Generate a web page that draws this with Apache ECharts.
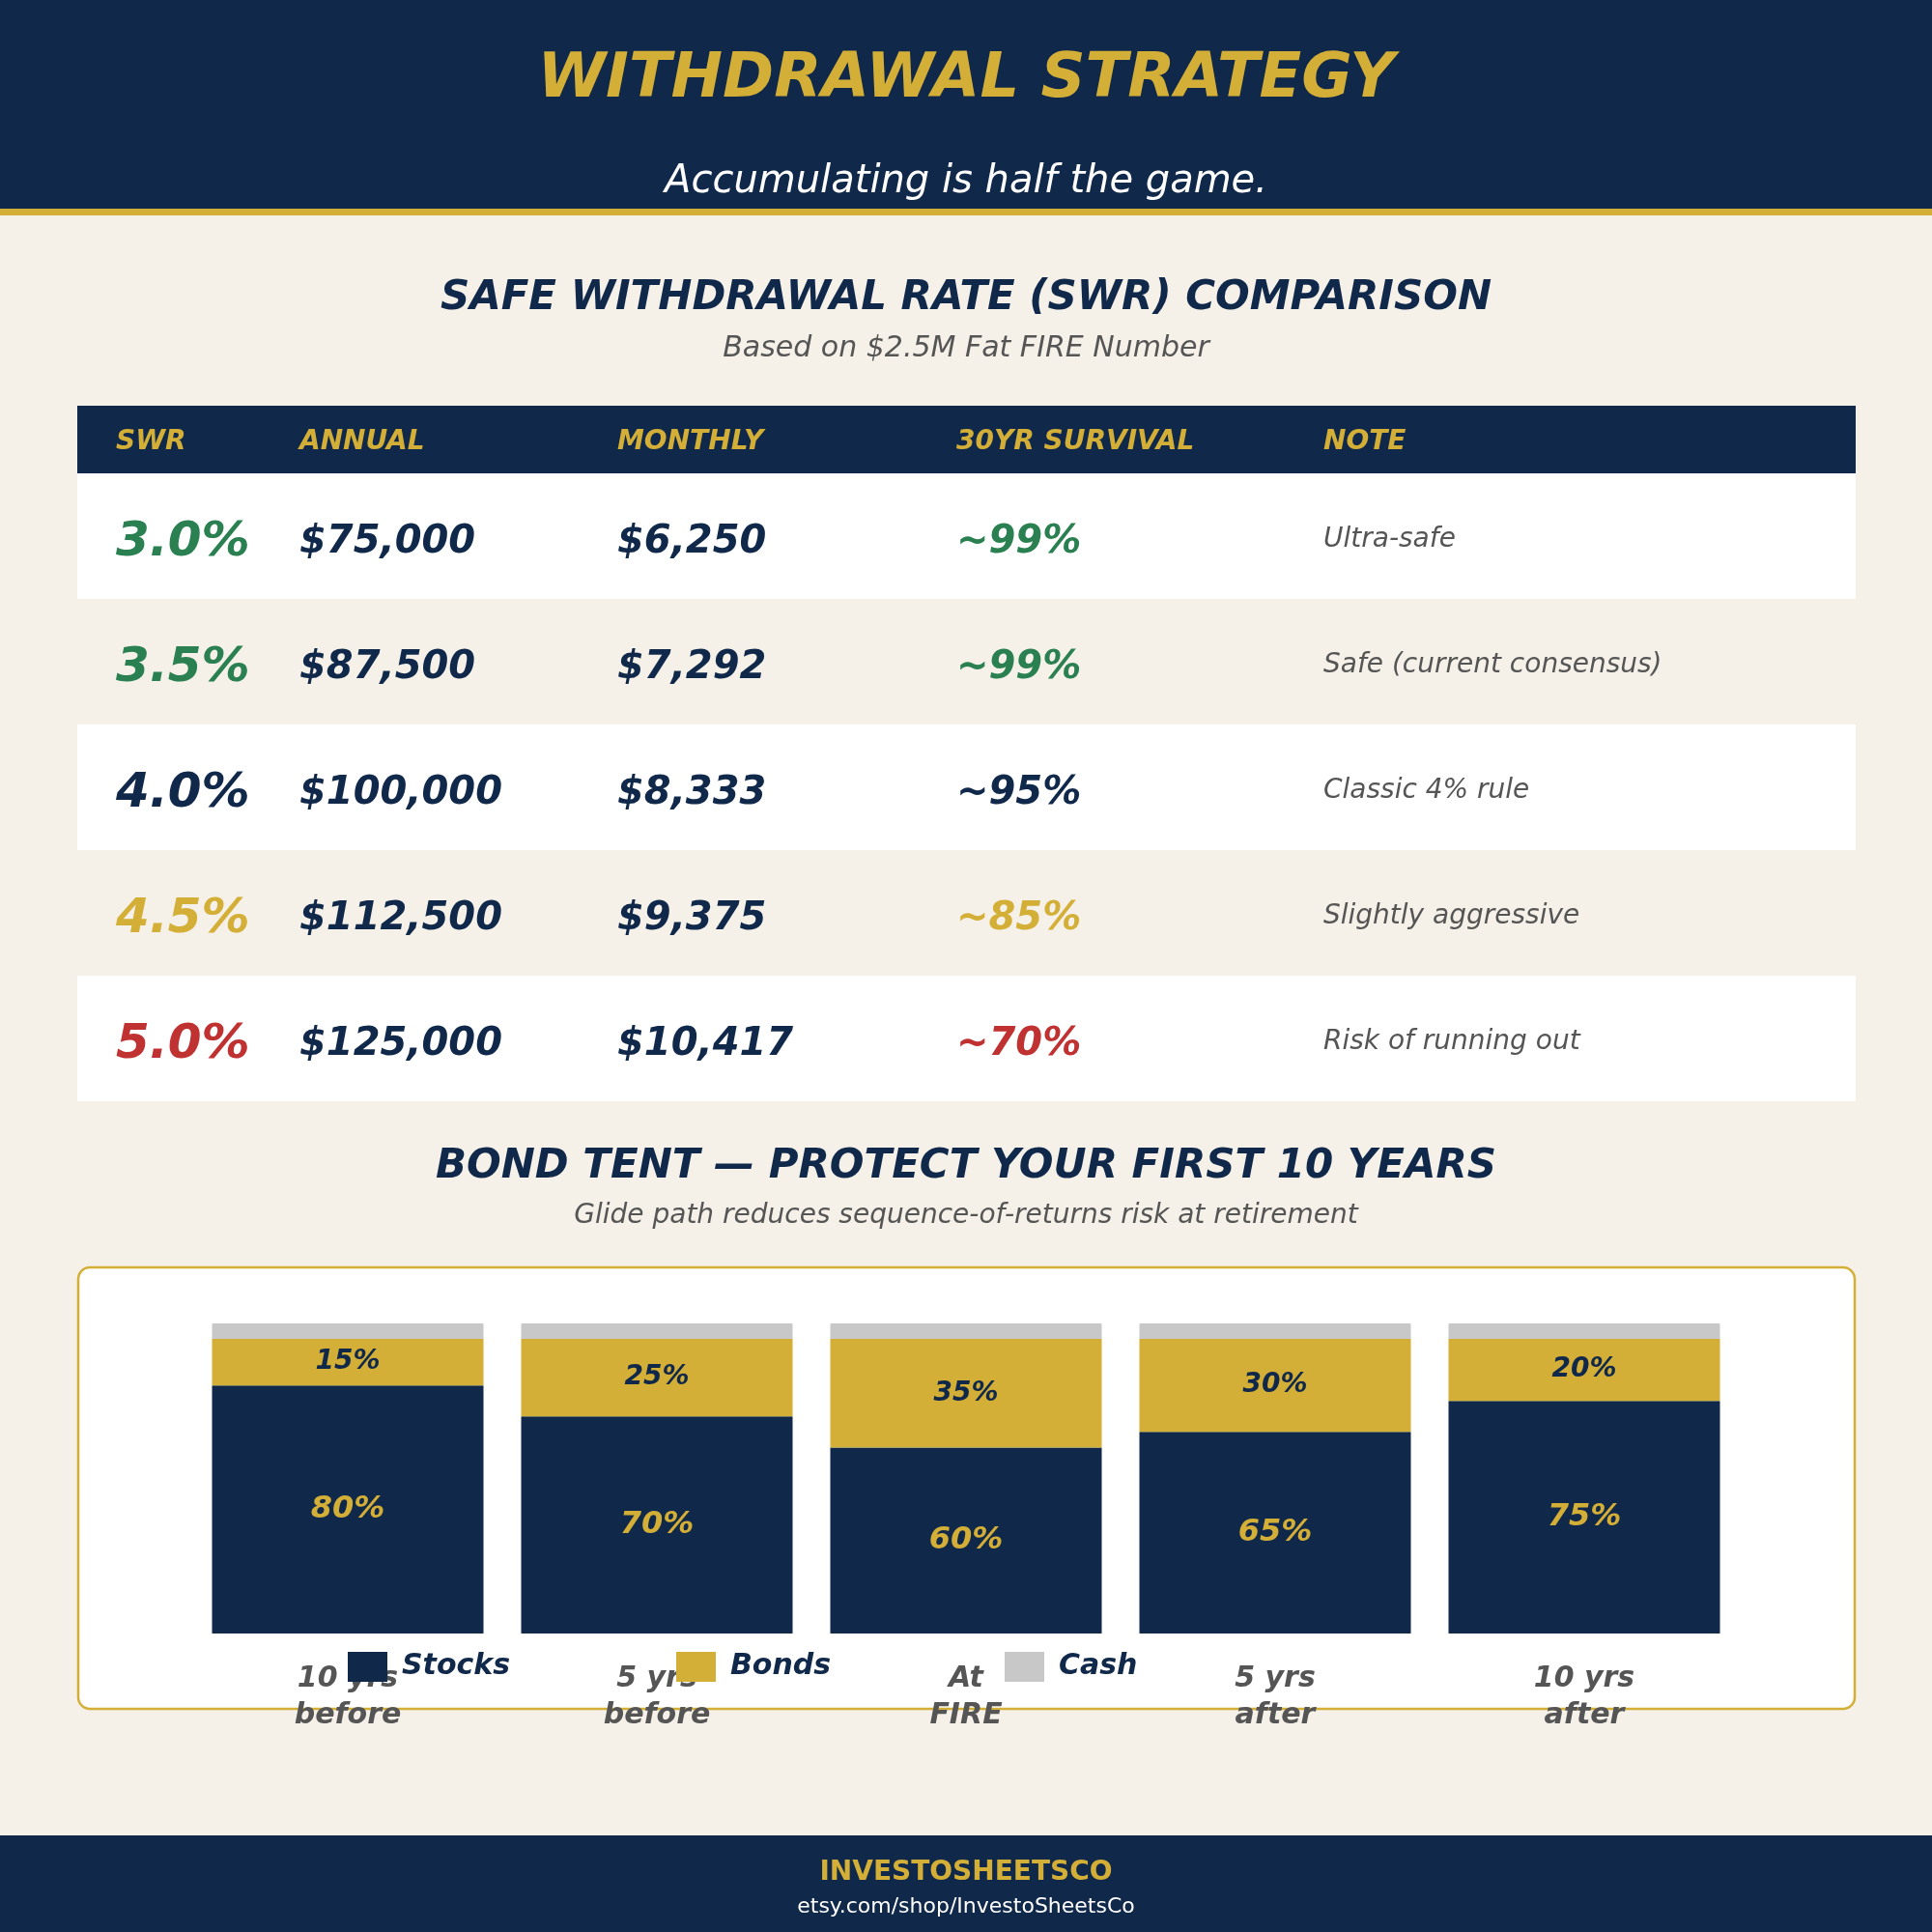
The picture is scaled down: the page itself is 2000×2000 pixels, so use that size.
<!DOCTYPE html>
<html>
<head>
<meta charset="utf-8">
<title>Withdrawal Strategy</title>
<script src="https://cdn.jsdelivr.net/npm/echarts/dist/echarts.min.js"></script>
<style>
  html, body { margin: 0; padding: 0; background: #f5f0e8; }
  #main { width: 2000px; height: 2000px; }
</style>
</head>
<body>
<div id="main"></div>
<script>
// SWR table data
var tableHeaders = ['SWR', 'ANNUAL', 'MONTHLY', '30YR SURVIVAL', 'NOTE'];
var swrRates = ['3.0%', '3.5%', '4.0%', '4.5%', '5.0%'];
var annualAmounts = ['$75,000', '$87,500', '$100,000', '$112,500', '$125,000'];
var monthlyAmounts = ['$6,250', '$7,292', '$8,333', '$9,375', '$10,417'];
var survivalRates = ['~99%', '~99%', '~95%', '~85%', '~70%'];
var notes = ['Ultra-safe', 'Safe (current consensus)', 'Classic 4% rule', 'Slightly aggressive', 'Risk of running out'];

// bond tent data
var phases = ['10 yrs\nbefore', '5 yrs\nbefore', 'At\nFIRE', '5 yrs\nafter', '10 yrs\nafter'];
var stocks = [80, 70, 60, 65, 75];
var bonds = [15, 25, 35, 30, 20];
var cash = [5, 5, 5, 5, 5];

// colours
var NAVY = '#10284a';
var GOLD = '#d4af37';
var BEIGE = '#f5f0e8';
var GREEN = '#2a8050';
var RED = '#c03232';
var GREY = '#555555';
var CASH = '#c8c8c8';
var FONT = '"DejaVu Sans", sans-serif';
var rowTone = [GREEN, GREEN, NAVY, GOLD, RED];

var myChart = echarts.init(document.getElementById('main'));

// helper for text elements
function txt(text, x, y, size, color, opts) {
  opts = opts || {};
  return {
    type: 'text',
    z: 5,
    style: {
      text: text,
      x: x,
      y: y,
      fill: color,
      fontSize: size,
      fontWeight: opts.weight || 'normal',
      fontStyle: opts.italic === false ? 'normal' : 'italic',
      fontFamily: FONT,
      align: opts.align || 'center',
      verticalAlign: 'middle'
    }
  };
}

var graphics = [];

// header band
graphics.push({ type: 'rect', z: 0, shape: { x: 0, y: 0, width: 2000, height: 216 }, style: { fill: NAVY } });
graphics.push({ type: 'rect', z: 0, shape: { x: 0, y: 216, width: 2000, height: 7 }, style: { fill: GOLD } });
graphics.push(txt('WITHDRAWAL STRATEGY', 1000, 83, 64, GOLD, { weight: 'bold' }));
graphics.push(txt('Accumulating is half the game.', 1000, 189, 40, '#ffffff'));

// table section
graphics.push(txt('SAFE WITHDRAWAL RATE (SWR) COMPARISON', 1000, 309, 42, NAVY, { weight: 'bold' }));
graphics.push(txt('Based on $2.5M Fat FIRE Number', 1000, 361, 30, GREY));

var colX = [120, 310, 639, 990, 1370];
var tableTop = 420, headH = 70, rowH = 130;
graphics.push({ type: 'rect', z: 0, shape: { x: 80, y: tableTop, width: 1841, height: headH }, style: { fill: NAVY } });
tableHeaders.forEach(function (h, i) {
  graphics.push(txt(h, colX[i], tableTop + headH / 2 + 3, 28, GOLD, { weight: 'bold', align: 'left' }));
});
swrRates.forEach(function (r, i) {
  var y0 = tableTop + headH + i * rowH;
  var cy = y0 + rowH / 2 + 7;
  if (i % 2 === 0) {
    graphics.push({ type: 'rect', z: 0, shape: { x: 80, y: y0, width: 1841, height: rowH }, style: { fill: '#ffffff' } });
  }
  graphics.push(txt(r, colX[0], cy, 50, rowTone[i], { weight: 'bold', align: 'left' }));
  graphics.push(txt(annualAmounts[i], colX[1], cy, 40, NAVY, { weight: 'bold', align: 'left' }));
  graphics.push(txt(monthlyAmounts[i], colX[2], cy, 40, NAVY, { weight: 'bold', align: 'left' }));
  graphics.push(txt(survivalRates[i], colX[3], cy, 40, rowTone[i], { weight: 'bold', align: 'left' }));
  graphics.push(txt(notes[i], colX[4], cy - 3, 28, GREY, { align: 'left' }));
});

// bond tent section
graphics.push(txt('BOND TENT \u2014 PROTECT YOUR FIRST 10 YEARS', 1000, 1208, 42, NAVY, { weight: 'bold' }));
graphics.push(txt('Glide path reduces sequence-of-returns risk at retirement', 1000, 1259, 28, GREY));
graphics.push({
  type: 'rect', z: 0,
  shape: { x: 81, y: 1312, width: 1839, height: 457, r: 12 },
  style: { fill: '#ffffff', stroke: GOLD, lineWidth: 2.5 }
});

// footer
graphics.push({ type: 'rect', z: 0, shape: { x: 0, y: 1900, width: 2000, height: 100 }, style: { fill: NAVY } });
graphics.push(txt('INVESTOSHEETSCO', 1000, 1939, 28, GOLD, { weight: 'bold', italic: false }));
graphics.push(txt('etsy.com/shop/InvestoSheetsCo', 1000, 1974, 22, '#ffffff', { italic: false }));

var labelFont = { fontFamily: FONT, fontWeight: 'bold', fontStyle: 'italic' };

function legendAt(name, left) {
  return {
    data: [name],
    left: left,
    top: 1705,
    itemWidth: 41,
    itemHeight: 31,
    itemGap: 0,
    icon: 'rect',
    selectedMode: false,
    textStyle: { color: NAVY, fontSize: 30, fontFamily: FONT, fontWeight: 'bold', fontStyle: 'italic', padding: [0, 0, 0, 10] }
  };
}

var option = {
  backgroundColor: BEIGE,
  animation: false,
  graphic: graphics,
  legend: [legendAt('Stocks', 355), legendAt('Bonds', 695), legendAt('Cash', 1035)],
  grid: { left: 200, top: 1370, width: 1600, height: 321 },
  xAxis: {
    type: 'category',
    data: phases,
    axisLine: { show: false },
    axisTick: { show: false },
    axisLabel: {
      color: GREY, fontSize: 30, lineHeight: 38, margin: 28,
      fontFamily: FONT, fontWeight: 'bold', fontStyle: 'italic'
    }
  },
  yAxis: { type: 'value', min: 0, max: 100, show: false, splitLine: { show: false } },
  series: [
    {
      name: 'Stocks', type: 'bar', stack: 'mix', barWidth: 281, data: stocks,
      itemStyle: { color: NAVY },
      label: Object.assign({ show: true, position: 'inside', color: GOLD, fontSize: 32, formatter: '{c}%' }, labelFont)
    },
    {
      name: 'Bonds', type: 'bar', stack: 'mix', barWidth: 281, data: bonds,
      itemStyle: { color: GOLD },
      label: Object.assign({ show: true, position: 'inside', color: NAVY, fontSize: 28, formatter: '{c}%' }, labelFont)
    },
    {
      name: 'Cash', type: 'bar', stack: 'mix', barWidth: 281, data: cash,
      itemStyle: { color: CASH },
      label: { show: false }
    }
  ]
};

myChart.setOption(option);
</script>
</body>
</html>
